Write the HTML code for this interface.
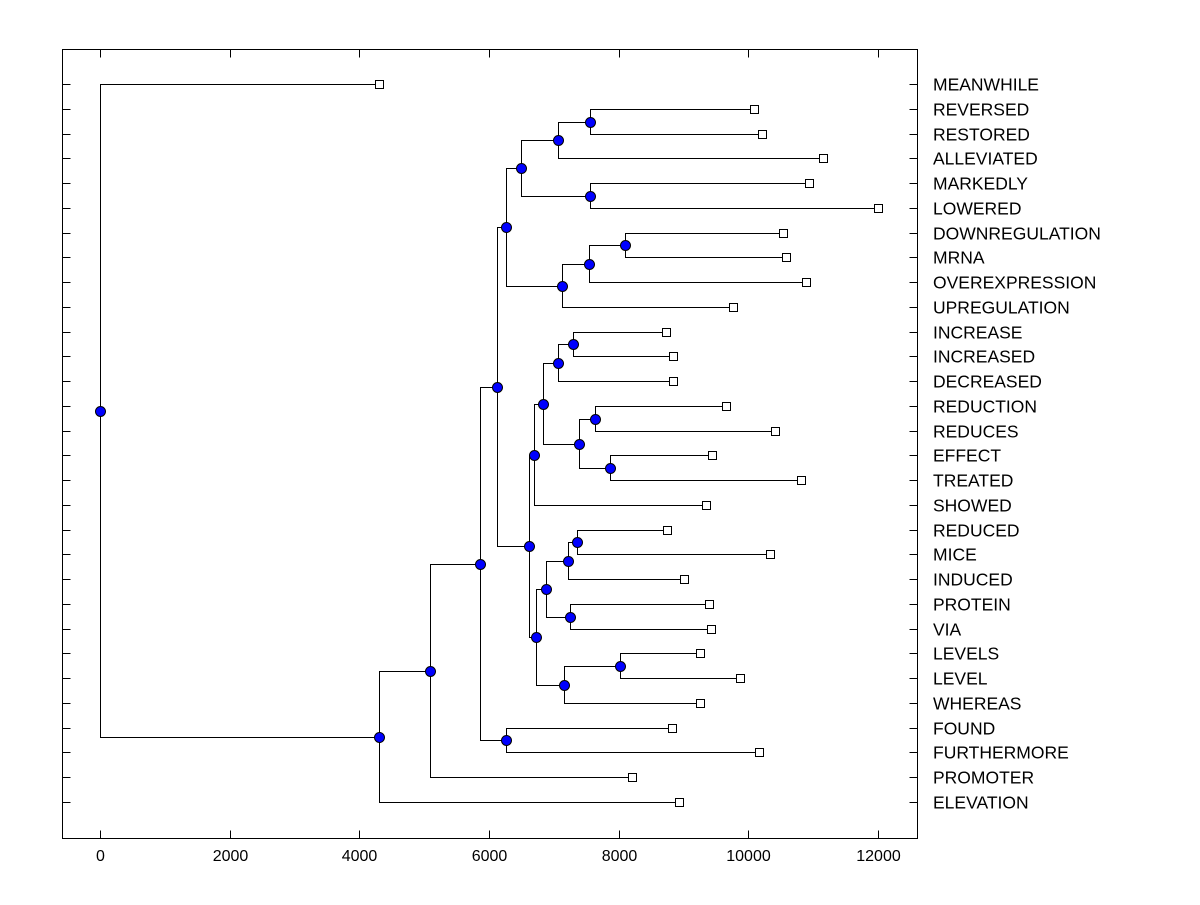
<!DOCTYPE html>
<html><head><meta charset="utf-8"><style>
html,body{margin:0;padding:0;background:#fff;}
svg text{font-family:"Liberation Sans",Arial,sans-serif;fill:#000;}
</style></head><body>
<svg id="chart" width="1200" height="900" viewBox="0 0 1200 900" xmlns="http://www.w3.org/2000/svg">
<rect x="0" y="0" width="1200" height="900" fill="#fff"/>
<g id="axes" shape-rendering="crispEdges"></g>
<g id="links" shape-rendering="crispEdges"></g>
<g id="marks"></g>
</svg>
<script>
const leafLabels = ["MEANWHILE","REVERSED","RESTORED","ALLEVIATED","MARKEDLY","LOWERED","DOWNREGULATION","MRNA","OVEREXPRESSION","UPREGULATION","INCREASE","INCREASED","DECREASED","REDUCTION","REDUCES","EFFECT","TREATED","SHOWED","REDUCED","MICE","INDUCED","PROTEIN","VIA","LEVELS","LEVEL","WHEREAS","FOUND","FURTHERMORE","PROMOTER","ELEVATION"];
const leafValues = [4303,10088,10211,11152,10936,12000,10535,10582,10890,9764,8731,8839,8839,9656,10412,9440,10813,9347,8746,10335,9008,9394,9425,9255,9872,9255,8823,10165,8206,8931];
// merge table: negative = leaf -(index+1), positive = earlier merge id (1-based)
const mergeA = [-2,1,-5,2,-7,5,6,4,-11,9,-14,-16,11,10,14,-19,16,-22,17,-24,20,19,15,8,-27,24,26,27,-1];
const mergeB = [-3,-4,-6,3,-8,-9,-10,7,-12,-13,-15,-17,12,13,-18,-20,-21,-23,18,-25,-26,21,22,23,-28,25,-29,-30,28];
const mergeH = [7558,7065,7558,6494,8098,7543,7126,6263,7296,7065,7635,7867,7389,6833,6694,7358,7219,7250,6880,8021,7157,6725,6617,6124,6263,5861,5090,4303,0];
const xTicks = [0,2000,4000,6000,8000,10000,12000];

const NS="http://www.w3.org/2000/svg";
const L=62.5,R=917.5,T=49.5,B=838.5;
const X=v=>Math.round(100+v*(778/12000))+0.5;
const Y=i=>Math.round(84+i*((802-84)/29))+0.5;
function mk(tag,attrs,parent){const e=document.createElementNS(NS,tag);for(const k in attrs)e.setAttribute(k,attrs[k]);parent.appendChild(e);return e;}
const axes=document.getElementById('axes'),links=document.getElementById('links'),marks=document.getElementById('marks');

const frame=mk('rect',{x:L,y:T,width:R-L,height:B-T,fill:'none',stroke:'#000','stroke-width':1},axes);


xTicks.forEach(v=>{
  const x=X(v);
  const t1=mk('line',{x1:x,y1:B,x2:x,y2:B-8,stroke:'#000'},axes);
  
  
  const t2=mk('line',{x1:x,y1:T,x2:x,y2:T+8,stroke:'#000'},axes);
  
  
  const tl=mk('text',{x:x,y:861,'text-anchor':'middle','font-size':16},axes);
  tl.textContent=v;
  
  
});
leafLabels.forEach((lab,i)=>{
  const y=Y(i);
  const a=mk('line',{x1:L,y1:y,x2:L+8,y2:y,stroke:'#000'},axes);
  
  
  const b=mk('line',{x1:R-8,y1:y,x2:R,y2:y,stroke:'#000'},axes);
  
  
  const t=mk('text',{x:933,y:y+6,'font-size':17.5},axes);
  t.textContent=lab;
  
  
});

const nodePos={};
function pos(ref){
  if(ref<0){const i=-ref-1;return {x:X(leafValues[i]),y:Y(i)};}
  return nodePos[ref];
}
mergeH.forEach((h,k)=>{
  const a=pos(mergeA[k]),b=pos(mergeB[k]);
  const x=X(h),y=Math.round((a.y+b.y)/2-0.5)+0.5;
  nodePos[k+1]={x:x,y:y};
  const p=mk('path',{d:`M${a.x},${a.y}H${x}V${b.y}H${b.x}`,fill:'none',stroke:'#000','stroke-width':1},links);
  
  
});
leafValues.forEach((v,i)=>{
  const s=mk('rect',{x:X(v)-4,y:Y(i)-4,width:8,height:8,fill:'#fff',stroke:'#000','shape-rendering':'crispEdges'},marks);
  
  
});
mergeH.forEach((h,k)=>{
  const n=nodePos[k+1];
  const c=mk('circle',{cx:n.x,cy:n.y,r:5,fill:'#0000ff',stroke:'#000','stroke-width':1},marks);
  
  
});
</script>
</body></html>
